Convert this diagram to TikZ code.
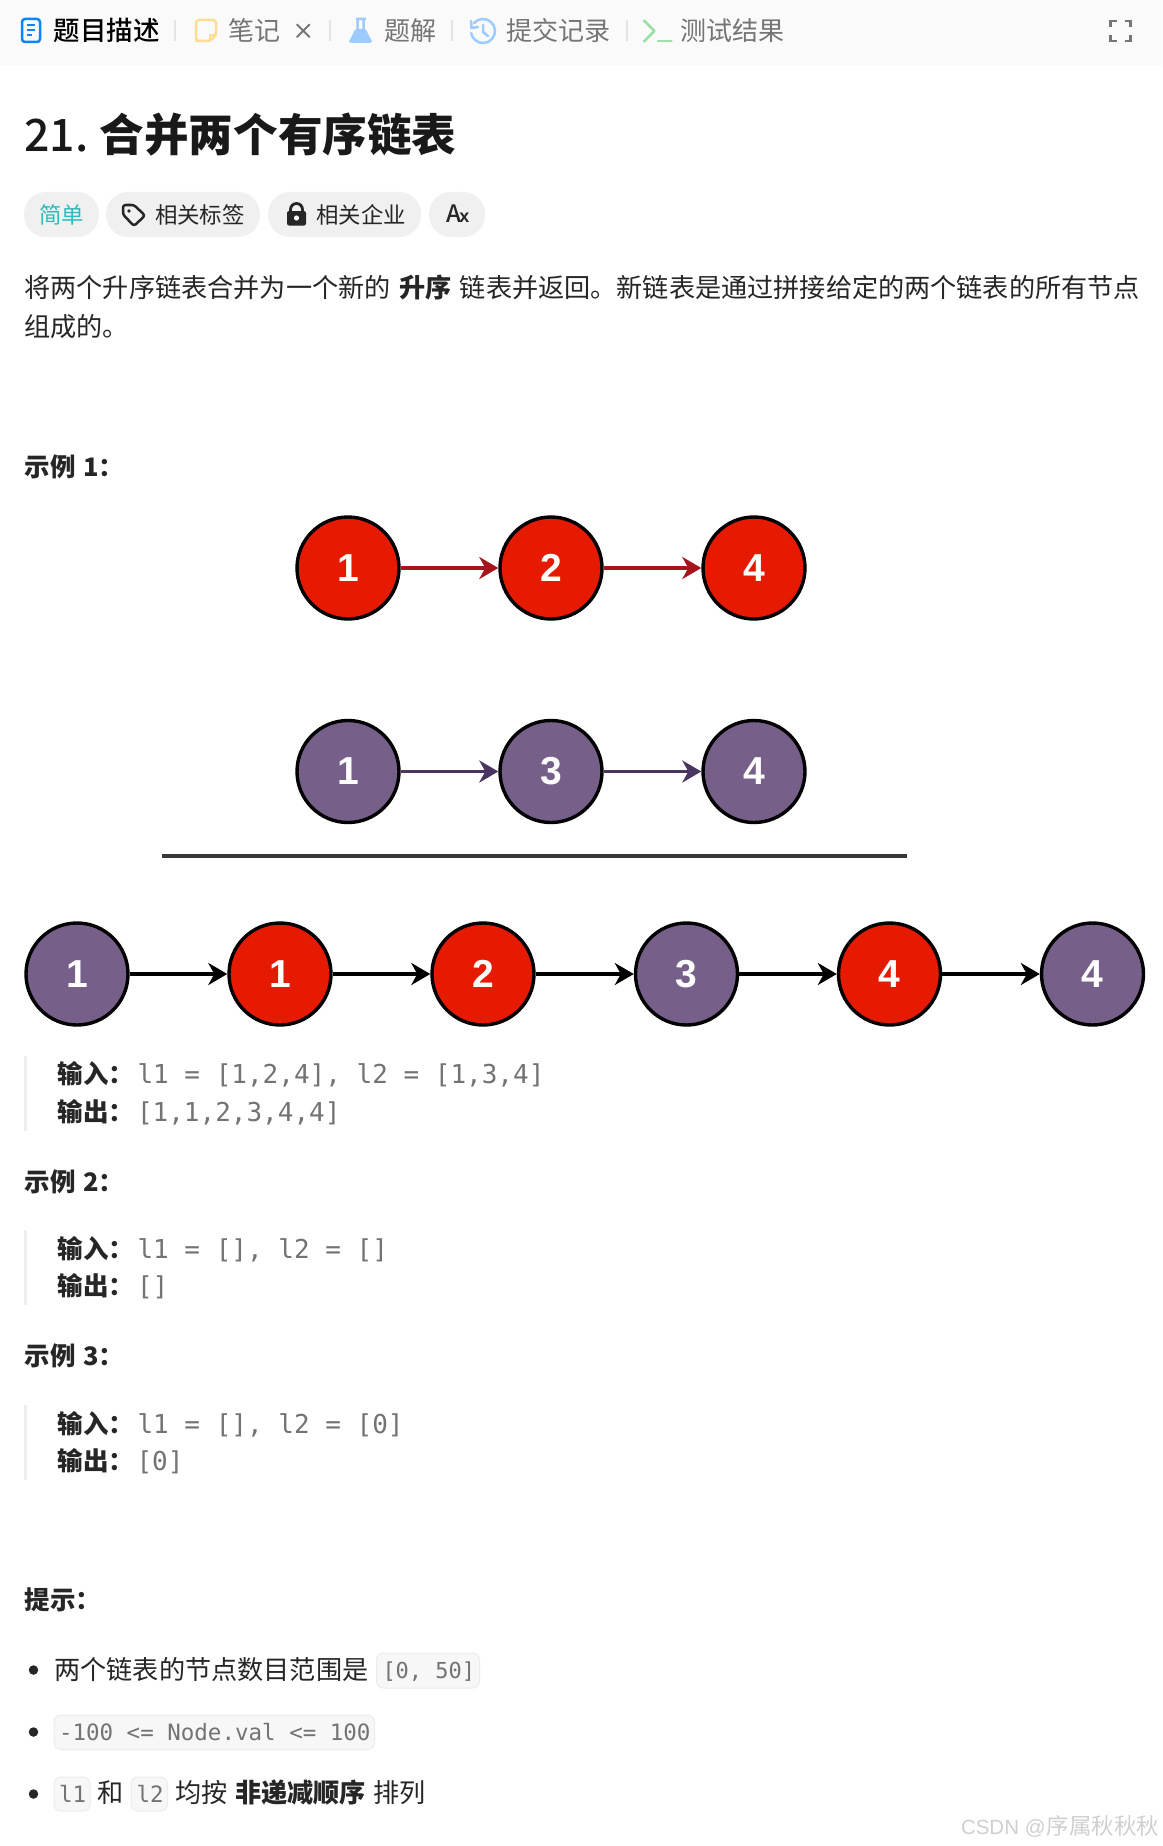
\documentclass[tikz,border=0pt]{standalone}
\usepackage{fontspec}
\usetikzlibrary{arrows.meta}
\setmainfont{Noto Sans CJK SC}
\newfontfamily\mediumfont{Noto Sans CJK SC Medium}
\newfontfamily\codefont{DejaVu Sans Mono}
\newfontfamily\arialfont{Liberation Sans}
\newcommand{\fsz}[1]{\fontsize{#1}{#1}\selectfont}
\definecolor{ink}{HTML}{262626}
\definecolor{tabgray}{HTML}{757575}
\definecolor{barbg}{HTML}{FAFAFA}
\definecolor{sepgray}{HTML}{E4E4E4}
\definecolor{pillbg}{HTML}{F0F0F0}
\definecolor{easy}{HTML}{2DBBBB}
\definecolor{docblue}{HTML}{0A84FF}
\definecolor{noteyel}{HTML}{FFDD90}
\definecolor{lightblue}{HTML}{9CCBFF}
\definecolor{termgreen}{HTML}{9CE0A8}
\definecolor{nodered}{HTML}{E51A00}
\definecolor{nodepurple}{HTML}{76608A}
\definecolor{arrowred}{HTML}{A8141E}
\definecolor{arrowpurple}{HTML}{4A3560}
\definecolor{quotebar}{HTML}{EEEEEE}
\definecolor{codegray}{HTML}{737373}
\definecolor{codebg}{HTML}{F7F7F7}
\definecolor{codeline}{HTML}{ECECEC}
\definecolor{mark}{HTML}{CFCFCF}
\tikzset{
  body/.style={anchor=base west,inner sep=0pt,outer sep=0pt,text=ink,font=\fsz{26.15}},
  tabtxt/.style={body,text=tabgray,font=\fsz{26}},
  boldtxt/.style={body,font=\fsz{25.5}\bfseries},
  codetxt/.style={body,text=codegray,font=\fsz{26}\codefont},
  inlinecode/.style={body,text=codegray,font=\fsz{22.5}\codefont},
  pilltxt/.style={body,font=\fsz{22.4}},
  pill/.style={fill=pillbg,draw=none,rounded corners=22pt},
  codebox/.style={fill=codebg,draw=codeline,line width=1pt,rounded corners=7pt},
  listnode/.style={circle,draw=black,line width=3.4pt,minimum size=102pt,inner sep=0pt,text=white,font=\fsz{39}\arialfont\bfseries},
  rednode/.style={listnode,fill=nodered},
  purplenode/.style={listnode,fill=nodepurple},
  link/.style={line width=3.5pt,-{Stealth[length=19pt,width=22pt,inset=6pt]}},
  tabicon/.style={line width=2.5pt,line cap=round,line join=round},
  sepbar/.style={draw=sepgray,line width=2pt},
  quotemark/.style={fill=quotebar,draw=none},
  dot/.style={circle,fill=ink,draw=none,minimum size=9.5pt,inner sep=0pt}
}
\begin{document}
\begin{tikzpicture}[x=1pt,y=-1pt]
\useasboundingbox (0,0) rectangle (1162,1846);
\fill[white] (0,0) rectangle (1162,1846);
% toolbar
\fill[barbg] (0,0) rectangle (1162,65);
\draw[tabicon,docblue,rounded corners=3pt] (22,19) rectangle (40,42);
\draw[docblue,line width=2pt] (27,25)--(35,25) (27,30)--(35,30) (27,35)--(32,35);
\node[body,text=black,font=\fsz{26.5}\mediumfont] (tab1) at (53.5,41) {题目描述};
\draw[sepbar] (175,20)--(175,41.5);
\draw[tabicon,noteyel,rounded corners=3pt] (210,41)--(199,41)--(196,41)--(196,20)--(216,20)--(216,35)--cycle;
\draw[tabicon,noteyel] (210,41)--(210,35)--(216,35);
\node[tabtxt] (tab2) at (228.5,41) {笔记};
\draw[line width=2pt,line cap=round,tabgray] (297,24.5)--(309.5,37) (309.5,24.5)--(297,37);
\draw[sepbar] (330,20)--(330,41.5);
\fill[lightblue,rounded corners=2pt] (355,29)--(350,41)--(350,43)--(371,43)--(371,41)--(366,29)--cycle;
\draw[lightblue,line width=2.5pt,line join=round] (356,19)--(366,19) (357.5,19)--(357.5,29)--(350,42) (363.5,19)--(363.5,29)--(371,42);
\node[tabtxt] (tab3) at (384.5,41) {题解};
\draw[sepbar] (452,20)--(452,41.5);
\draw[tabicon,lightblue] ([shift={(140:12pt)}]483,31) arc[start angle=140,end angle=-170,radius=12pt];
\draw[tabicon,lightblue] (471,21)--(471.5,28)--(478,27);
\draw[tabicon,lightblue] (483,25)--(483,32)--(488,36);
\node[tabtxt] (tab4) at (506,41) {提交记录};
\draw[sepbar] (627,20)--(627,41.5);
\draw[tabicon,termgreen] (644,20.5)--(654.5,31)--(644,41.5);
\draw[tabicon,termgreen] (658,41)--(671.5,41);
\node[tabtxt] (tab5) at (680.5,41) {测试结果};
\draw[line width=2.5pt,tabgray]
  (1110.5,27)--(1110.5,21)--(1116.5,21) (1124.5,21)--(1130.5,21)--(1130.5,27)
  (1110.5,35)--(1110.5,41)--(1116.5,41) (1124.5,41)--(1130.5,41)--(1130.5,35);
% title
\node[body,text=black!90,font=\fsz{44.6}\bfseries] (title) at (24.5,151.5) {{\mdseries\mediumfont 21.}\hspace{11pt}合并两个有序链表};
% pills
\fill[pill] (24,192) rectangle (99,237);
\fill[pill] (106,192) rectangle (260,237);
\fill[pill] (268,192) rectangle (421,237);
\fill[pill] (429,192) rectangle (485,237);
\node[pilltxt,text=easy] (easytag) at (39,223) {简单};
\draw[ink,line width=2.5pt,line join=round,rounded corners=2.5pt] (123,205)--(134,205)--(145,215.5)--(134,226)--(123,214.5)--cycle;
\fill[ink] (129,211) circle (1.8);
\node[pilltxt] (tagtxt) at (155,223) {相关标签};
\draw[ink,line width=2.8pt] (290.5,211)--(290.5,209.5) arc[start angle=180,end angle=0,radius=6pt]--(302.5,211);
\fill[ink,rounded corners=2pt] (287,211) rectangle (306,225.5);
\fill[white] (296.5,218) circle (2.6);
\node[pilltxt] (comptxt) at (316.5,223) {相关企业};
\node[body,font=\fsz{24}\mediumfont] (translate) at (446.5,222.5) {A\kern-2pt{\fsz{18}\bfseries\arialfont x}};
% paragraph
\node[body] (para1) at (24.5,297) {将两个升序链表合并为一个新的\hspace{9pt}\textbf{升序}\hspace{8pt}链表并返回。新链表是通过拼接给定的两个链表的所有节点};
\node[body] (para2) at (24.5,336.5) {组成的。};
% example 1
\node[boldtxt] (ex1) at (24.5,476) {示例\hspace{8pt}1\hspace{-1pt}：};
\node[rednode] (a1) at (348,568) {1};
\node[rednode] (a2) at (551,568) {2};
\node[rednode] (a3) at (754,568) {4};
\draw[link,arrowred] (a1)--(a2);
\draw[link,arrowred] (a2)--(a3);
\node[purplenode] (b1) at (348,771.5) {1};
\node[purplenode] (b2) at (551,771.5) {3};
\node[purplenode] (b3) at (754,771.5) {4};
\draw[link,arrowpurple] (b1)--(b2);
\draw[link,arrowpurple] (b2)--(b3);
\coordinate (ruleL) at (161.5,856);
\coordinate (ruleR) at (907,856);
\draw[line width=4.5pt,black!78] (ruleL)--(ruleR);
\node[purplenode] (c1) at (77,974) {1};
\node[rednode] (c2) at (280,974) {1};
\node[rednode] (c3) at (483,974) {2};
\node[purplenode] (c4) at (686.5,974) {3};
\node[rednode] (c5) at (889.5,974) {4};
\node[purplenode] (c6) at (1092.5,974) {4};
\foreach \u/\v in {c1/c2,c2/c3,c3/c4,c4/c5,c5/c6}{\draw[link,black] (\u)--(\v);}
% example 1 quote
\fill[quotemark] (24,1055.5) rectangle (27,1131);
\node[boldtxt] (in1) at (57.5,1083) {输入：};
\node[codetxt] (in1v) at (137.5,1083) {l1 = [1,2,4], l2 = [1,3,4]};
\node[boldtxt] (out1) at (57.5,1121) {输出：};
\node[codetxt] (out1v) at (137,1121) {[1,1,2,3,4,4]};
% example 2
\node[boldtxt] (ex2) at (24.5,1191) {示例\hspace{8pt}2\hspace{-1pt}：};
\fill[quotemark] (24,1230) rectangle (27,1305);
\node[boldtxt] (in2) at (57.5,1258) {输入：};
\node[codetxt] (in2v) at (137.5,1258) {l1 = [], l2 = []};
\node[boldtxt] (out2) at (57.5,1295) {输出：};
\node[codetxt] (out2v) at (137,1295) {[]};
% example 3
\node[boldtxt] (ex3) at (24.5,1365) {示例\hspace{8pt}3\hspace{-1pt}：};
\fill[quotemark] (24,1405) rectangle (27,1480);
\node[boldtxt] (in3) at (57.5,1433) {输入：};
\node[codetxt] (in3v) at (137.5,1433) {l1 = [], l2 = [0]};
\node[boldtxt] (out3) at (57.5,1470) {输出：};
\node[codetxt] (out3v) at (136.5,1470) {[0]};
% hints
\node[boldtxt] (hint) at (24.5,1609.5) {提示：};
\node[dot] (d1) at (33.5,1670) {};
\node[body] (h1) at (54.5,1679) {两个链表的节点数目范围是};
\draw[codebox] (376.5,1653) rectangle (479.5,1688);
\node[inlinecode,font=\fsz{22}\codefont] (h1c) at (382.5,1678) {[0, 50]};
\node[dot] (d2) at (33.5,1732) {};
\draw[codebox] (54,1715) rectangle (374.5,1749.5);
\node[inlinecode] (h2c) at (59,1740) {-100 <= Node.val <= 100};
\node[dot] (d3) at (33.5,1794) {};
\draw[codebox] (54,1777) rectangle (90,1811);
\node[inlinecode] (h3a) at (59,1802) {l1};
\node[body] (h3b) at (97,1802) {和};
\draw[codebox] (131,1777) rectangle (167.5,1811);
\node[inlinecode] (h3c) at (136.5,1802) {l2};
\node[body] (h3d) at (175,1802) {均按};
\node[body,font=\fsz{26.15}\bfseries] (h3e) at (235,1802) {非递减顺序};
\node[body] (h3f) at (373.5,1802) {排列};
% watermark
\node[body,text=mark,font=\fsz{22.5}] (wm) at (961,1834) {{\arialfont\fsz{20.5}CSDN @}\hspace{1pt}序属秋秋秋};
\end{tikzpicture}
\end{document}
